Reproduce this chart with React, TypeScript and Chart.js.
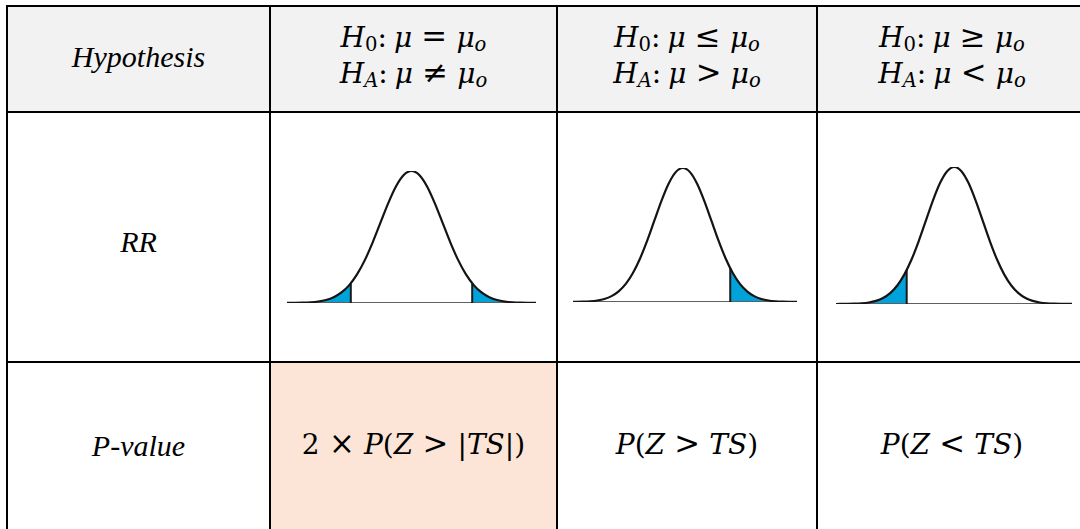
import React, { useEffect, useRef } from "react";
import { Chart, registerables } from "chart.js";

Chart.register(...registerables);

// ---- data ----
const rowLabels = ["Hypothesis", "RR", "P-value"];
const zGrid = [-4.25, -4, -3.75, -3.5, -3.25, -3, -2.75, -2.5, -2.25, -2, -1.75, -1.5, -1.25, -1, -0.75, -0.5, -0.25, 0, 0.25, 0.5, 0.75, 1, 1.25, 1.5, 1.75, 2, 2.25, 2.5, 2.75, 3, 3.25, 3.5, 3.75, 4, 4.25];
const curveHeight = [0.0001, 0.0003, 0.0009, 0.0022, 0.0051, 0.0111, 0.0228, 0.0439, 0.0796, 0.1353, 0.2163, 0.3247, 0.4578, 0.6065, 0.7548, 0.8825, 0.9692, 1, 0.9692, 0.8825, 0.7548, 0.6065, 0.4578, 0.3247, 0.2163, 0.1353, 0.0796, 0.0439, 0.0228, 0.0111, 0.0051, 0.0022, 0.0009, 0.0003, 0.0001];
const cutoffs = [[-1.95, 1.95], [1.66], [-1.67]];
const cutoffHeights = [[0.149, 0.149], [0.252], [0.248]];

// ---- layout (positions / axis ranges) ----
const panelBoxes = [
  { left: 287, right: 536, top: 171, bottom: 303, xMin: -4, xMax: 4 },
  { left: 573, right: 797, top: 168, bottom: 302, xMin: -3.85, xMax: 4.0 },
  { left: 836, right: 1072, top: 167, bottom: 304, xMin: -4.15, xMax: 4.13 },
];
const PAD = 6;
const colBounds = [[8, 269], [271, 556], [558, 816], [818, 1086]];

const MATH_FONT = "'DejaVu Serif', serif";
const TEXT_FONT = "'Liberation Serif', 'Times New Roman', serif";

function BellPanel({ index }: { index: number }) {
  const ref = useRef<HTMLCanvasElement | null>(null);
  const box = panelBoxes[index];
  const w = box.right - box.left + PAD * 2;
  const h = box.bottom - box.top + PAD * 2;
  useEffect(() => {
    if (!ref.current) return;
    const curve = zGrid.map((x, i) => ({ x, y: curveHeight[i] }));
    const datasets: any[] = [];
    datasets.push({
      data: curve,
      borderColor: "#141414",
      borderWidth: 2.2,
      cubicInterpolationMode: "monotone",
      fill: false,
      pointRadius: 0,
    });
    cutoffs[index].forEach((c, k) => {
      datasets.push({
        data: [{ x: c, y: 0 }, { x: c, y: cutoffHeights[index][k] }],
        borderColor: "#1a1a1a",
        borderWidth: 2,
        pointRadius: 0,
        fill: false,
      });
    });
    datasets.push({
      data: [{ x: box.xMin, y: 0 }, { x: box.xMax, y: 0 }],
      borderColor: "#606060",
      borderWidth: 2,
      pointRadius: 0,
      fill: false,
    });
    cutoffs[index].forEach((c, k) => {
      const hh = cutoffHeights[index][k];
      const isLeft = c < 0;
      const pts = curve.filter((p) => (isLeft ? p.x < c : p.x > c));
      const tail = isLeft ? [...pts, { x: c, y: hh }] : [{ x: c, y: hh }, ...pts];
      datasets.push({
        data: tail,
        borderWidth: 0,
        borderColor: "rgba(0,0,0,0)",
        backgroundColor: "#00a3d9",
        fill: "origin",
        cubicInterpolationMode: "monotone",
        pointRadius: 0,
      });
    });
    const chart = new Chart(ref.current, {
      type: "line",
      data: { datasets },
      options: {
        animation: false,
        responsive: false,
        devicePixelRatio: 1,
        events: [],
        layout: { padding: PAD },
        plugins: { legend: { display: false }, tooltip: { enabled: false } },
        scales: {
          x: { type: "linear", min: box.xMin, max: box.xMax, display: false },
          y: { min: 0, max: 1, display: false },
        },
      },
    } as any);
    return () => chart.destroy();
  }, [index]);
  return (
    <canvas
      ref={ref}
      width={w}
      height={h}
      style={{ position: "absolute", left: box.left - PAD, top: box.top - PAD, width: w, height: h }}
    />
  );
}

const I = ({ children }: any) => <span style={{ fontStyle: "italic" }}>{children}</span>;
const Sub = ({ children, italic }: any) => (
  <span style={{ fontSize: "0.7em", position: "relative", top: "0.22em", lineHeight: 0, fontStyle: italic ? "italic" : "normal" }}>
    {children}
  </span>
);
const Rel = ({ children }: any) => (
  <span style={{ margin: "0 0.3em", fontSize: "1.1em", lineHeight: 0 }}>{children}</span>
);

function Hyp({ a, sub }: any) {
  return (
    <div>
      <I>H</I>
      <Sub italic={sub !== "0"}>{sub}</Sub>:<span style={{ marginLeft: "0.25em" }} />
      <I>μ</I>
      <Rel>{a}</Rel>
      <I>μ</I>
      <Sub italic>o</Sub>
    </div>
  );
}

const headerRel = [["=", "≠"], ["≤", ">"], ["≥", "<"]];

export default function App() {
  const lineStyle = (s: any) => ({ position: "absolute" as const, background: "#000", ...s });
  return (
    <div style={{ position: "absolute", left: 0, top: 0, width: 1080, height: 529, overflow: "hidden", background: "#fff" }}>
      <div style={{ position: "absolute", left: 8, top: 7, width: 1072, height: 104, background: "#f2f2f2" }} />
      <div style={{ position: "absolute", left: 271, top: 363, width: 285, height: 166, background: "#fce4d6" }} />

      {/* row labels */}
      {rowLabels.map((t, r) => {
        const baselines = [67, 252, 456];
        return (
          <div
            key={t}
            style={{
              position: "absolute",
              left: colBounds[0][0],
              width: colBounds[0][1] - colBounds[0][0],
              top: baselines[r] - 25,
              lineHeight: "30px",
              fontSize: 30,
              fontFamily: TEXT_FONT,
              fontStyle: "italic",
              textAlign: "center",
              color: "#000",
            }}
          >
            {t}
          </div>
        );
      })}

      {/* header math */}
      {headerRel.map((rel, c) => (
        <div
          key={c}
          style={{
            position: "absolute",
            left: colBounds[c + 1][0],
            width: colBounds[c + 1][1] - colBounds[c + 1][0],
            top: 20,
            lineHeight: "36px",
            fontSize: 28,
            fontFamily: MATH_FONT,
            textAlign: "center",
            color: "#000",
          }}
        >
          <Hyp a={rel[0]} sub="0" />
          <Hyp a={rel[1]} sub="A" />
        </div>
      ))}

      {/* p-value math */}
      {[0, 1, 2].map((c) => (
        <div
          key={c}
          style={{
            position: "absolute",
            left: colBounds[c + 1][0],
            width: colBounds[c + 1][1] - colBounds[c + 1][0],
            top: 427,
            lineHeight: "36px",
            fontSize: 28,
            fontFamily: MATH_FONT,
            textAlign: "center",
            color: "#000",
          }}
        >
          {c === 0 && (
            <>
              2<Rel>×</Rel>
              <I>P</I>(<I>Z</I>
              <Rel>&gt;</Rel>|<I>TS</I>|)
            </>
          )}
          {c === 1 && (
            <>
              <I>P</I>(<I>Z</I>
              <Rel>&gt;</Rel>
              <I>TS</I>)
            </>
          )}
          {c === 2 && (
            <>
              <I>P</I>(<I>Z</I>
              <Rel>&lt;</Rel>
              <I>TS</I>)
            </>
          )}
        </div>
      ))}

      {[0, 1, 2].map((i) => (
        <BellPanel key={i} index={i} />
      ))}

      {/* grid lines */}
      <div style={lineStyle({ left: 6, top: 5, width: 1074, height: 2 })} />
      <div style={lineStyle({ left: 6, top: 111, width: 1074, height: 2 })} />
      <div style={lineStyle({ left: 6, top: 361, width: 1074, height: 2 })} />
      <div style={lineStyle({ left: 6, top: 5, width: 2, height: 524 })} />
      <div style={lineStyle({ left: 269, top: 5, width: 2, height: 524 })} />
      <div style={lineStyle({ left: 556, top: 5, width: 2, height: 524 })} />
      <div style={lineStyle({ left: 816, top: 5, width: 2, height: 524 })} />
    </div>
  );
}
